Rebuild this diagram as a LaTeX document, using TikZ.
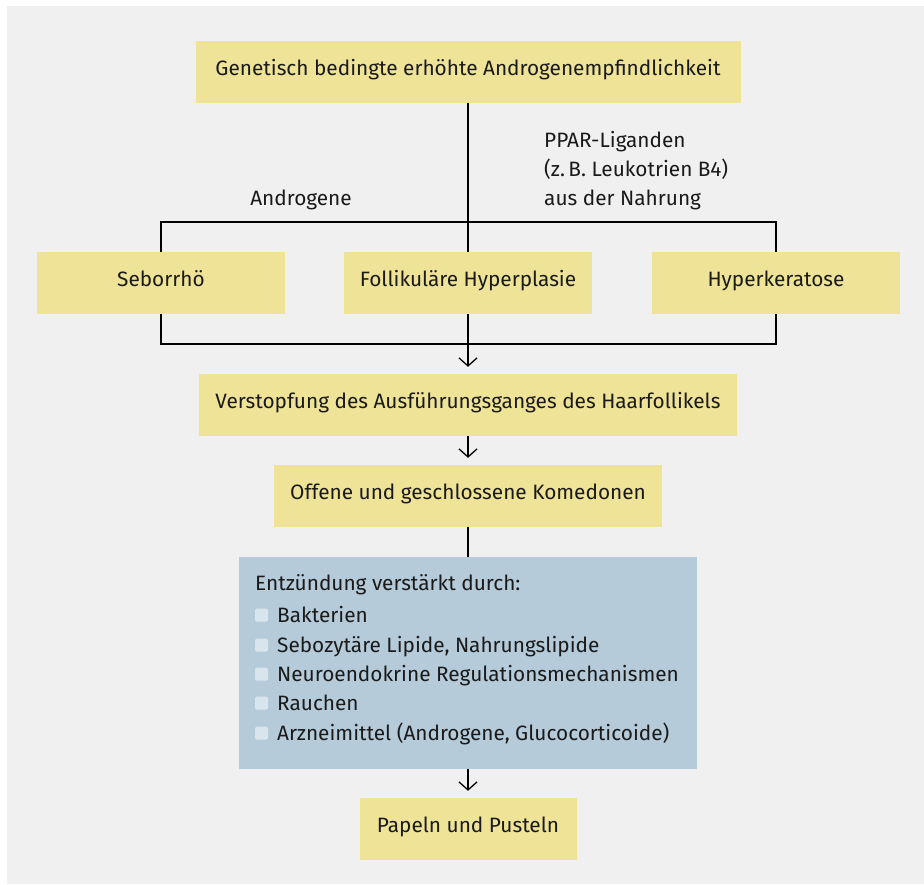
\documentclass[tikz,border=0pt]{standalone}
\usepackage{fontspec}
\setmainfont{Fira Sans}
\usetikzlibrary{arrows.meta}
\definecolor{pagebg}{HTML}{F0F0F0}
\definecolor{boxyellow}{HTML}{EFE397}
\definecolor{boxblue}{HTML}{B5CBD9}
\definecolor{bulletfill}{HTML}{D9E5EC}
\definecolor{ink}{HTML}{1A1A1A}
\begin{document}
\begin{tikzpicture}[x=1pt,y=-1pt,
  every node/.style={font=\fontsize{20.8}{25}\selectfont, text=ink, inner sep=0pt},
  ybox/.style={fill=boxyellow, minimum height=62pt, align=center, text height=15pt, text depth=9pt},
  link/.style={line width=1.3pt, draw=black},
  flow/.style={link, -{Straight Barb[length=8pt,width=18pt,line width=1.3pt]}, shorten >=7pt},
  bullet/.style={fill=bulletfill, rounded corners=1.5pt},
  label/.style={anchor=base west}]
  \useasboundingbox (0,0) rectangle (924,884);
  \fill[pagebg] (7,6) rectangle (924,884);

  % boxes of the flow chart
  \node[ybox, minimum width=545pt] (top) at (468,72) {Genetisch bedingte erhöhte Androgenempfindlichkeit};
  \node[ybox, minimum width=248pt] (sebo) at (161,283) {Seborrhö};
  \node[ybox, minimum width=248pt] (foll) at (468,283) {Follikuläre Hyperplasie};
  \node[ybox, minimum width=248pt] (hyper) at (776,283) {Hyperkeratose};
  \node[ybox, minimum width=538pt] (verst) at (468,405) {Verstopfung des Ausführungsganges des Haarfollikels};
  \node[ybox, minimum width=388pt] (kom) at (468,496) {Offene und geschlossene Komedonen};
  \node[fill=boxblue, minimum width=458pt, minimum height=212pt] (entz) at (468,663) {};
  \node[ybox, minimum width=217pt] (pap) at (468,829) {Papeln und Pusteln};

  % side labels
  \node[anchor=base] (andro) at (301,205) {Androgene};
  \node[label] (ppar1) at (544,147) {PPAR-Liganden};
  \node[label] (ppar2) at (544,176) {(z.\,B. Leukotrien B4)};
  \node[label] (ppar3) at (544,205) {aus der Nahrung};

  % list in the blue box
  \node[label] (head) at (255,590) {Entzündung verstärkt durch:};
  \foreach \t/\y [count=\i] in {Bakterien/615, {Sebozytäre Lipide, Nahrungslipide}/645,
      Neuroendokrine Regulationsmechanismen/674, Rauchen/703,
      {Arzneimittel (Androgene, Glucocorticoide)}/733} {
    \fill[bullet] (255,\y-6.5) rectangle (268,\y+6.5);
    \node[label] (item\i) at (277,\y+7.5) {\t};
  }

  % connectors
  \draw[link] (top.south) -- (foll.north);
  \draw[link] (sebo.north) -- (sebo.north |- 0,222) -- (hyper.north |- 0,222) -- (hyper.north);
  \draw[link] (sebo.south) -- (sebo.south |- 0,344) -- (hyper.south |- 0,344) -- (hyper.south);
  \draw[link] (foll.south) -- (foll.south |- 0,344) coordinate (join);
  \draw[flow] (join) -- (verst.north);
  \draw[flow] (verst.south) -- (kom.north);
  \draw[link] (kom.south) -- (entz.north);
  \draw[flow] (entz.south) -- (pap.north);
\end{tikzpicture}
\end{document}
